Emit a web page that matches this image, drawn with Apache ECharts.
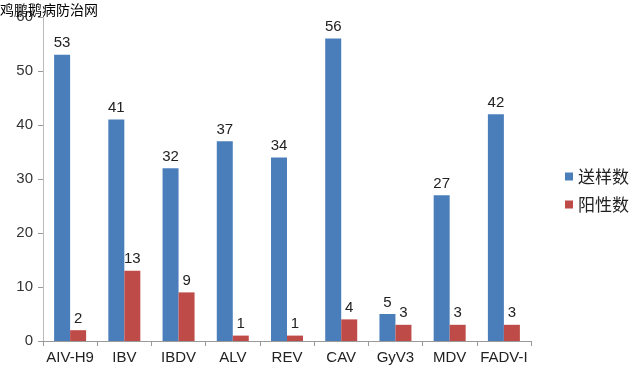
<!DOCTYPE html>
<html><head><meta charset="utf-8">
<script src="https://cdn.jsdelivr.net/npm/echarts@6/dist/echarts.min.js"></script>
<style>html,body{margin:0;padding:0;background:#fff}#c{width:637px;height:380px}</style>
</head><body><div id="c"></div>
<script>
const categories = ['AIV-H9','IBV','IBDV','ALV','REV','CAV','GyV3','MDV','FADV-I'];
const sampled = [53,41,32,37,34,56,5,27,42];
const positive = [2,13,9,1,1,4,3,3,3];
const seriesNames = ['送样数','阳性数'];
const watermark = '鸡鹏鹅病防治网';

const chart = echarts.init(document.getElementById('c'), null, {renderer:'canvas'});
const font = '"Liberation Sans", Arial, sans-serif';
const lbl = {show:true, position:'top', distance:4, fontSize:15, color:'#222', fontFamily:font};
chart.setOption({
  animation:false,
  backgroundColor:'#fff',
  graphic:[{type:'text', left:0, top:3, z:100, style:{text:watermark, fontSize:14, fill:'#000', fontFamily:'"Noto Sans CJK SC", sans-serif'}}],
  legend:{
    orient:'vertical', left:560, top:163, itemWidth:8, itemHeight:8, itemGap:11,
    icon:'rect',
    textStyle:{fontSize:17, color:'#222', fontFamily:'"Noto Sans CJK SC", sans-serif'},
    data:seriesNames
  },
  grid:{left:43, right:106, top:17, bottom:39},
  xAxis:{
    type:'category', data:categories,
    axisLine:{lineStyle:{color:'#999'}},
    axisTick:{show:true, length:5, lineStyle:{color:'#999'}},
    axisLabel:{fontSize:15, color:'#222', margin:9, fontFamily:font, interval:0}
  },
  yAxis:{
    type:'value', min:0, max:60, interval:10,
    axisLine:{show:true, lineStyle:{color:'#bbb'}},
    axisTick:{show:true, length:5, lineStyle:{color:'#999'}},
    splitLine:{show:false},
    axisLabel:{fontSize:15, color:'#333', margin:10, fontFamily:font}
  },
  series:[
    {name:seriesNames[0], type:'bar', data:sampled, barWidth:16, barGap:'0%', itemStyle:{color:'#4A7EBB'}, label:lbl},
    {name:seriesNames[1], type:'bar', data:positive, barWidth:16, barGap:'0%', itemStyle:{color:'#BE4B48'}, label:lbl}
  ]
});
</script></body></html>
